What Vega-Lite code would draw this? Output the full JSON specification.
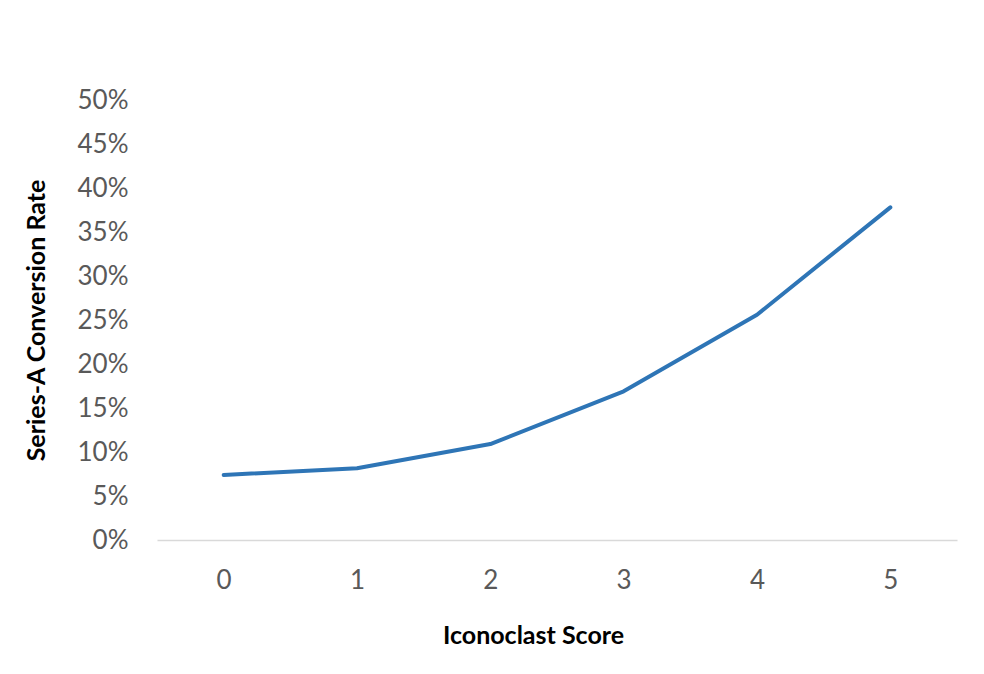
{
  "$schema": "https://vega.github.io/schema/vega-lite/v6.json",
  "width": 800,
  "height": 440,
  "autosize": {"type": "none"},
  "padding": {"left": 157, "top": 100, "right": 27, "bottom": 134},
  "background": "white",
  "config": {"view": {"stroke": null}, "font": "Lato"},
  "data": {"values": [
    {"score": "0", "rate": 0.0739},
    {"score": "1", "rate": 0.0815},
    {"score": "2", "rate": 0.109},
    {"score": "3", "rate": 0.169},
    {"score": "4", "rate": 0.256},
    {"score": "5", "rate": 0.378}
  ]},
  "mark": {"type": "line", "color": "#2E75B6", "strokeWidth": 4, "strokeCap": "round", "strokeJoin": "round"},
  "encoding": {
    "x": {
      "field": "score", "type": "ordinal", "sort": null,
      "scale": {"type": "point", "padding": 0.5},
      "axis": {
        "title": "Iconoclast Score", "labelAngle": 0, "ticks": false,
        "domainColor": "#d9d9d9", "domainWidth": 1.5,
        "labelFont": "Lato", "labelFontSize": 26, "labelColor": "#595959", "labelPadding": 27,
        "titleFont": "Lato", "titleFontSize": 25, "titleFontWeight": "bold", "titleColor": "#000000",
        "titleX": 376, "titleAlign": "center", "titleY": 95, "titleBaseline": "middle", "grid": false
      }
    },
    "y": {
      "field": "rate", "type": "quantitative",
      "scale": {"domain": [0, 0.5], "nice": false},
      "axis": {
        "title": "Series-A Conversion Rate", "format": ".0%", "values": [0,0.05,0.1,0.15,0.2,0.25,0.3,0.35,0.4,0.45,0.5],
        "domain": false, "ticks": false, "grid": false,
        "labelFont": "Lato", "labelFontSize": 26, "labelColor": "#595959", "labelPadding": 29,
        "titleFont": "Lato", "titleFontSize": 25, "titleFontWeight": "bold", "titleColor": "#000000",
        "titleX": -121, "titleY": 220, "titleAngle": -90, "titleAlign": "center", "titleBaseline": "middle"
      }
    }
  }
}
